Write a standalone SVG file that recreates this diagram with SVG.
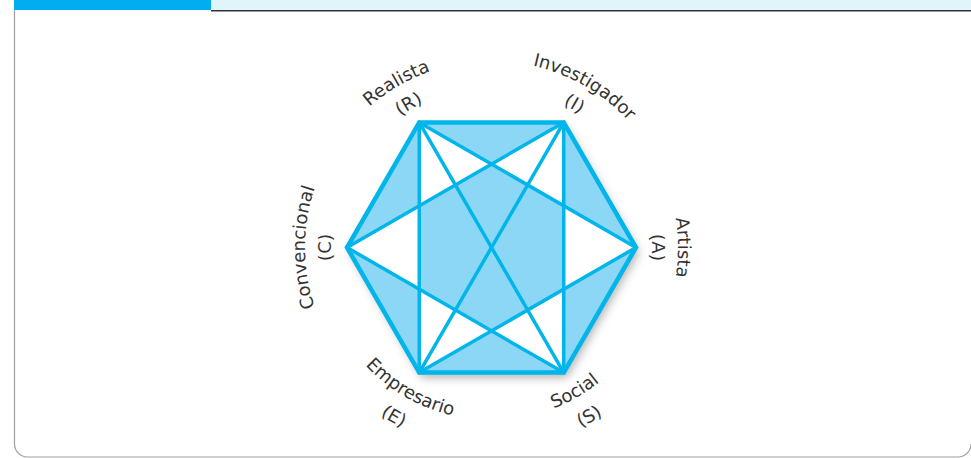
<svg xmlns="http://www.w3.org/2000/svg" xmlns:xlink="http://www.w3.org/1999/xlink" width="971" height="458" viewBox="0 0 971 458">
<style>
.lbl{font-family:"DejaVu Sans","Liberation Sans",sans-serif;font-size:18px;fill:#333333;}
.ln{stroke:#00b5ea;stroke-width:3.5;fill:none;stroke-linecap:round;}
.tip{fill:#ffffff;stroke:none;}
</style>
<defs>
<filter id="sh" x="-20%" y="-20%" width="140%" height="140%">
<feDropShadow dx="3" dy="5" stdDeviation="5" flood-color="#000000" flood-opacity="0.3"/>
</filter>
<path id="pR1" d="M311.35,199.23 A186.5,186.5 0 0 1 539.77,67.35"/>
<path id="pR2" d="M336.95,206.09 A160,160 0 0 1 532.91,92.95"/>
<path id="pI1" d="M443.23,67.35 A186.5,186.5 0 0 1 671.65,199.23"/>
<path id="pI2" d="M450.09,92.95 A160,160 0 0 1 646.05,206.09"/>
<path id="pA1" d="M623.38,115.62 A186.5,186.5 0 0 1 623.38,379.38"/>
<path id="pA2" d="M604.64,134.36 A160,160 0 0 1 604.64,360.64"/>
<path id="pC1" d="M359.62,379.38 A186.5,186.5 0 0 1 359.62,115.62"/>
<path id="pC2" d="M378.36,360.64 A160,160 0 0 1 378.36,134.36"/>
<path id="pE1" d="M324.88,292.15 A172.5,172.5 0 0 0 536.15,414.12"/>
<path id="pE2" d="M297.35,299.52 A201,201 0 0 0 543.52,441.65"/>
<path id="pS1" d="M446.85,414.12 A172.5,172.5 0 0 0 658.12,292.15"/>
<path id="pS2" d="M439.48,441.65 A201,201 0 0 0 685.65,299.52"/>
</defs>
<g id="frame">
<rect x="14" y="0" width="197" height="10" fill="#00aeef"/>
<rect x="211" y="0" width="760" height="10" fill="#e0f4fb"/>
<line x1="211" y1="10.7" x2="971" y2="10.7" stroke="#333333" stroke-width="1.5"/>
<path d="M14.5,10 V444 A13,13 0 0 0 27.5,457 H958 A13,13 0 0 0 971,444" fill="none" stroke="#a0a0a0" stroke-width="1.2"/>
</g>
<g id="hexagon">
<polygon points="419.25,122.4 563.75,122.4 636,247.5 563.75,372.6 419.25,372.6 347,247.5" fill="#8dd7f6" filter="url(#sh)"/>
<polygon class="tip" points="419.25,122.4 419.25,205.8 491.5,164.1"/>
<polygon class="tip" points="563.75,122.4 563.75,205.8 491.5,164.1"/>
<polygon class="tip" points="347,247.5 419.25,205.8 419.25,289.2"/>
<polygon class="tip" points="636,247.5 563.75,205.8 563.75,289.2"/>
<polygon class="tip" points="419.25,372.6 419.25,289.2 491.5,330.9"/>
<polygon class="tip" points="563.75,372.6 563.75,289.2 491.5,330.9"/>
</g>
<g id="connectors">
<line class="ln" x1="419.25" y1="122.4" x2="419.25" y2="372.6"/>
<line class="ln" x1="563.75" y1="122.4" x2="563.75" y2="372.6"/>
<line class="ln" x1="419.25" y1="122.4" x2="636" y2="247.5"/>
<line class="ln" x1="563.75" y1="122.4" x2="347" y2="247.5"/>
<line class="ln" x1="347" y1="247.5" x2="563.75" y2="372.6"/>
<line class="ln" x1="419.25" y1="372.6" x2="636" y2="247.5"/>
<line class="ln" x1="419.25" y1="122.4" x2="563.75" y2="372.6"/>
<line class="ln" x1="563.75" y1="122.4" x2="419.25" y2="372.6"/>
<polygon points="419.25,122.4 563.75,122.4 636,247.5 563.75,372.6 419.25,372.6 347,247.5" fill="none" stroke="#00b5ea" stroke-width="4.5" stroke-linejoin="miter"/>
</g>
<g id="node-R"><text class="lbl"><textPath xlink:href="#pR1" startOffset="50%" text-anchor="middle">Realista</textPath></text><text class="lbl"><textPath xlink:href="#pR2" startOffset="50%" text-anchor="middle">(R)</textPath></text></g>
<g id="node-I"><text class="lbl"><textPath xlink:href="#pI1" startOffset="50%" text-anchor="middle">Investigador</textPath></text><text class="lbl"><textPath xlink:href="#pI2" startOffset="50%" text-anchor="middle">(I)</textPath></text></g>
<g id="node-A"><text class="lbl"><textPath xlink:href="#pA1" startOffset="50%" text-anchor="middle">Artista</textPath></text><text class="lbl"><textPath xlink:href="#pA2" startOffset="50%" text-anchor="middle">(A)</textPath></text></g>
<g id="node-C"><text class="lbl"><textPath xlink:href="#pC1" startOffset="50%" text-anchor="middle">Convencional</textPath></text><text class="lbl"><textPath xlink:href="#pC2" startOffset="50%" text-anchor="middle">(C)</textPath></text></g>
<g id="node-E"><text class="lbl"><textPath xlink:href="#pE1" startOffset="50%" text-anchor="middle">Empresario</textPath></text><text class="lbl"><textPath xlink:href="#pE2" startOffset="50%" text-anchor="middle">(E)</textPath></text></g>
<g id="node-S"><text class="lbl"><textPath xlink:href="#pS1" startOffset="50%" text-anchor="middle">Social</textPath></text><text class="lbl"><textPath xlink:href="#pS2" startOffset="50%" text-anchor="middle">(S)</textPath></text></g>
</svg>
